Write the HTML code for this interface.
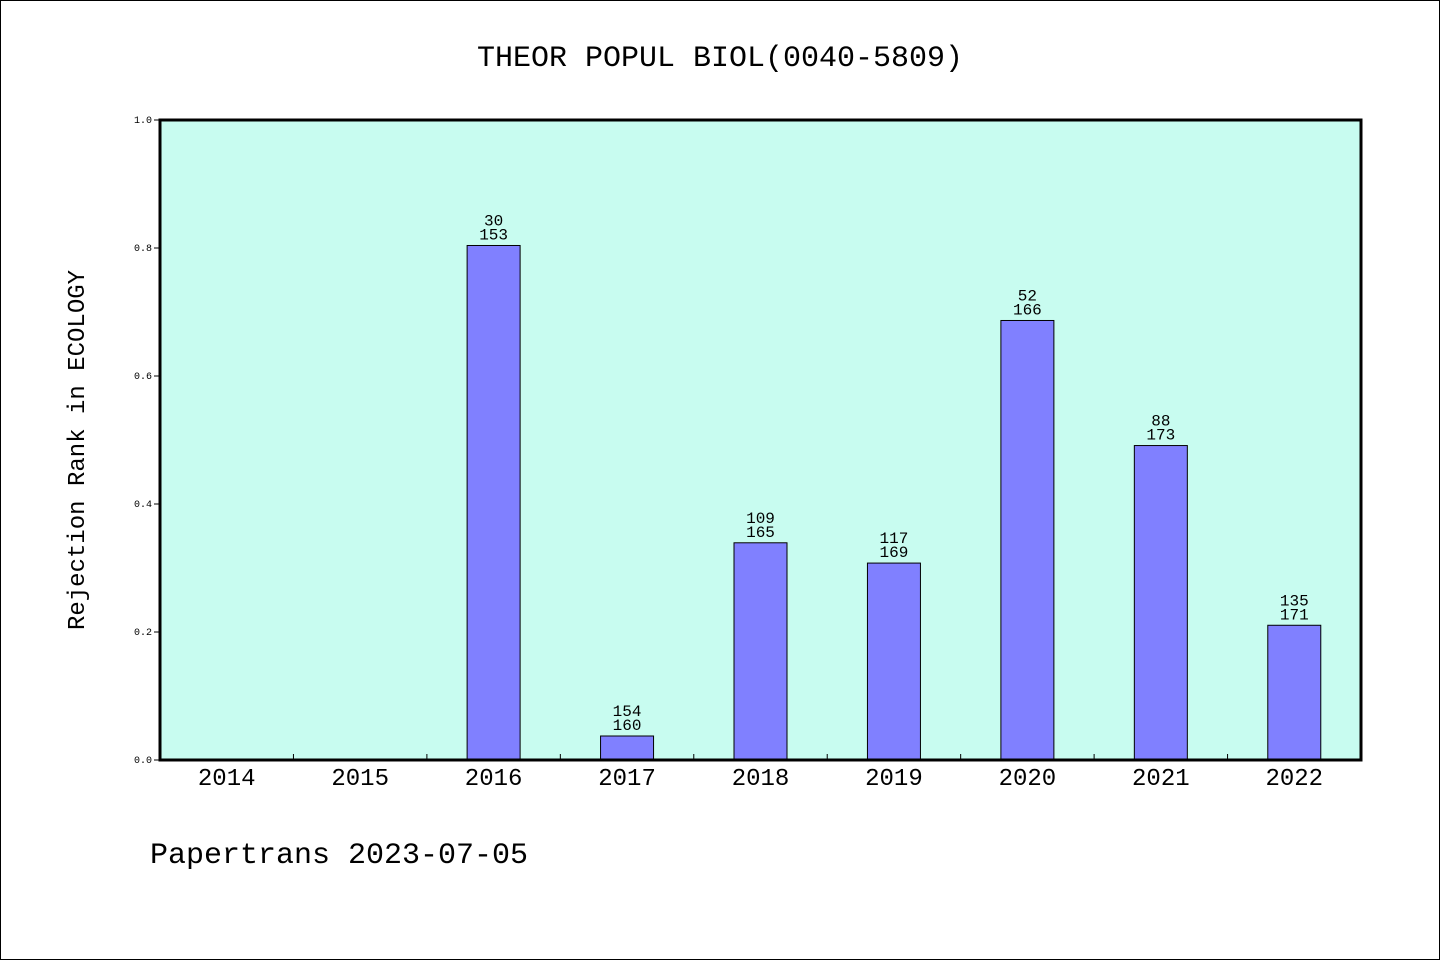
<!DOCTYPE html>
<html><head><meta charset="utf-8"><style>
html,body{margin:0;padding:0;background:#fff}
svg{display:block}
text{font-family:"Liberation Mono","DejaVu Sans Mono",monospace;fill:#000}
</style></head><body>
<svg id="chart" width="1440" height="960" xmlns="http://www.w3.org/2000/svg">
<rect x="0.5" y="0.5" width="1439" height="959" fill="#fff" stroke="#000"/>
<text x="720" y="66" text-anchor="middle" font-size="30">THEOR POPUL BIOL(0040-5809)</text>
<rect x="160" y="120" width="1201" height="640" fill="#c8fcf0"/>
<g id="bars"></g>
<rect x="160" y="120" width="1201" height="640" fill="none" stroke="#000" stroke-width="3"/>
<text transform="translate(84,450) rotate(-90)" text-anchor="middle" font-size="24">Rejection Rank in ECOLOGY</text>
<text x="150" y="863" font-size="30">Papertrans 2023-07-05</text>
</svg>
<script>
const categories=["2014","2015","2016","2017","2018","2019","2020","2021","2022"];
const ranks=[null,null,30,154,109,117,52,88,135];
const totals=[null,null,153,160,165,169,166,173,171];
const yTicks=[0,0.2,0.4,0.6,0.8,1.0];
const yTickLabels=["0.0","0.2","0.4","0.6","0.8","1.0"];
const NS="http://www.w3.org/2000/svg";
const svg=document.getElementById('chart');
const g=document.getElementById('bars');
const X0=160,W=1201,Y0=760,H=640;
const band=W/categories.length;
function y(v){return Y0-v*H;}
function xc(i){return X0+band*(i+0.5);}
function mk(tag,attrs,parent){const e=document.createElementNS(NS,tag);for(const k in attrs)e.setAttribute(k,attrs[k]);(parent||svg).appendChild(e);return e;}
categories.forEach((c,i)=>{
  const t=mk('text',{x:xc(i),y:785,'text-anchor':'middle','font-size':24});
  
  
  t.textContent=c;
  if(i>0){const l=mk('line',{x1:X0+band*i,x2:X0+band*i,y1:Y0,y2:Y0-6,stroke:'#000','stroke-width':1});
  
  }
  if(ranks[i]!=null){
    const v=1-ranks[i]/totals[i];
    const b=mk('rect',{x:xc(i)-26.5,y:y(v),width:53,height:Y0-y(v),fill:'#8080ff',stroke:'#000','stroke-width':1},g);
    
    
    const t1=mk('text',{x:xc(i),y:y(v)-20,'text-anchor':'middle','font-size':16});
    
    
    t1.textContent=ranks[i];
    const t2=mk('text',{x:xc(i),y:y(v)-6,'text-anchor':'middle','font-size':16});
    
    
    t2.textContent=totals[i];
  }
});
yTicks.forEach((v,i)=>{
  const t=mk('text',{x:152,y:y(v)+3,'text-anchor':'end','font-size':10,'font-family':'"Liberation Sans",sans-serif'});
  
  
  t.textContent=yTickLabels[i];
  const l=mk('line',{x1:154,x2:160,y1:y(v),y2:y(v),stroke:'#000','stroke-width':1});
  
  
});
</script>
</body></html>
